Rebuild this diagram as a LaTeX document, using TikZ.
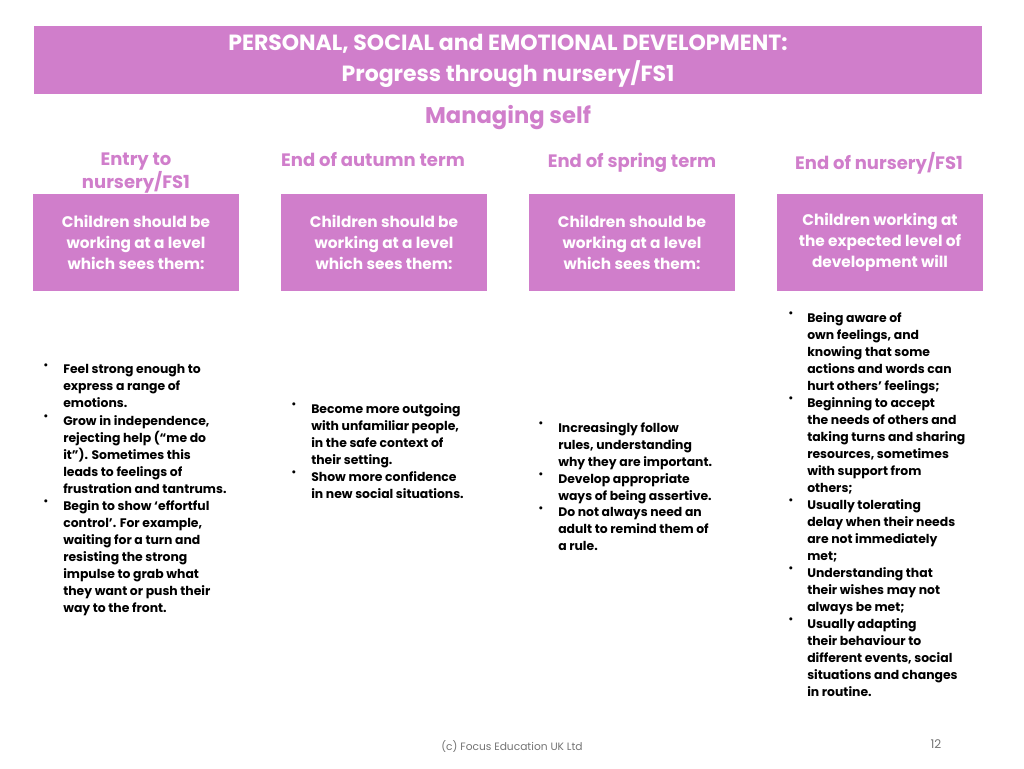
\documentclass[tikz,border=0pt]{standalone}
\usepackage{fontspec}
\setmainfont{Poppins}
\definecolor{psed}{HTML}{D07ECB}
\begin{document}
\begin{tikzpicture}[x=0.75pt,y=-0.75pt,
    bar/.style={fill=psed, draw=none},
    head/.style={text=psed, font=\fontsize{13.5}{15.5}\selectfont\bfseries, align=center},
    box/.style={fill=psed, text=white, minimum width=154.5pt, minimum height=72.75pt,
        font=\fontsize{11.5}{15.5}\selectfont\bfseries, align=center, inner sep=0pt},
    item/.style={anchor=north west, inner sep=0pt, align=left,
        font=\fontsize{9.3}{12.75}\selectfont\bfseries},
    dot/.style={anchor=north west, inner sep=0pt, font=\fontsize{9.3}{12.75}\selectfont}]
    % page
    \useasboundingbox (0,0) rectangle (1024,768);

    % the title
    \fill[bar] (34,26) rectangle (982,94);
    \node[text=white, font=\fontsize{16.5}{23}\selectfont\bfseries, align=center] (title) at (508,61)
        {PERSONAL, SOCIAL and EMOTIONAL DEVELOPMENT:\\ Progress through nursery/FS1};
    \node[text=psed, font=\fontsize{17}{20}\selectfont\bfseries] (strand) at (508,118) {Managing self};

    % the column heads
    \node[head, anchor=north] (h1) at (136,148) {Entry to\\ nursery/FS1};
    \node[head, anchor=north] (h2) at (373,148) {End of autumn term};
    \node[head, anchor=north] (h3) at (632,148) {End of spring term};
    \node[head, anchor=north] (h4) at (879,148) {End of nursery/FS1};

    \node[box] (b1) at (136,242.5) {Children should be\\ working at a level\\ which sees them:};
    \node[box] (b2) at (384,242.5) {Children should be\\ working at a level\\ which sees them:};
    \node[box] (b3) at (632,242.5) {Children should be\\ working at a level\\ which sees them:};
    \node[box] (b4) at (880,242.5) {Children working at\\ the expected level of\\ development will};

    % first column
    \node[dot] at (43,364) {•};
    \node[item] (t1a) at (63,364) {Feel strong enough to\\ express a range of\\ emotions.};
    \node[dot] at (43,415) {•};
    \node[item] (t1b) at (63,415) {Grow in independence,\\ rejecting help (``me do\\ it''). Sometimes this\\ leads to feelings of\\ frustration and tantrums.};
    \node[dot] at (43,500) {•};
    \node[item] (t1c) at (63,500) {Begin to show ‘effortful\\ control’. For example,\\ waiting for a turn and\\ resisting the strong\\ impulse to grab what\\ they want or push their\\ way to the front.};

    % second column
    \node[dot] at (291,403) {•};
    \node[item] (t2a) at (311,403) {Become more outgoing\\ with unfamiliar people,\\ in the safe context of\\ their setting.};
    \node[dot] at (291,471) {•};
    \node[item] (t2b) at (311,471) {Show more confidence\\ in new social situations.};

    % third column
    \node[dot] at (538,422) {•};
    \node[item] (t3a) at (558,422) {Increasingly follow\\ rules, understanding\\ why they are important.};
    \node[dot] at (538,473) {•};
    \node[item] (t3b) at (558,473) {Develop appropriate\\ ways of being assertive.};
    \node[dot] at (538,507) {•};
    \node[item] (t3c) at (558,507) {Do not always need an\\ adult to remind them of\\ a rule.};

    % fourth column
    \node[dot] at (788,312) {•};
    \node[item] (t4a) at (807,312) {Being aware of\\ own feelings, and\\ knowing that some\\ actions and words can\\ hurt others’ feelings;};
    \node[dot] at (788,397) {•};
    \node[item] (t4b) at (807,397) {Beginning to accept\\ the needs of others and\\ taking turns and sharing\\ resources, sometimes\\ with support from\\ others;};
    \node[dot] at (788,499) {•};
    \node[item] (t4c) at (807,499) {Usually tolerating\\ delay when their needs\\ are not immediately\\ met;};
    \node[dot] at (788,567) {•};
    \node[item] (t4d) at (807,567) {Understanding that\\ their wishes may not\\ always be met;};
    \node[dot] at (788,618) {•};
    \node[item] (t4e) at (807,618) {Usually adapting\\ their behaviour to\\ different events, social\\ situations and changes\\ in routine.};

    % footer
    \node[text=black!55, font=\fontsize{8}{10}\selectfont] (foot) at (512,746) {(c) Focus Education UK Ltd};
    \node[text=black!55, font=\fontsize{9}{10}\selectfont] (page) at (936,744) {12};
\end{tikzpicture}
\end{document}
